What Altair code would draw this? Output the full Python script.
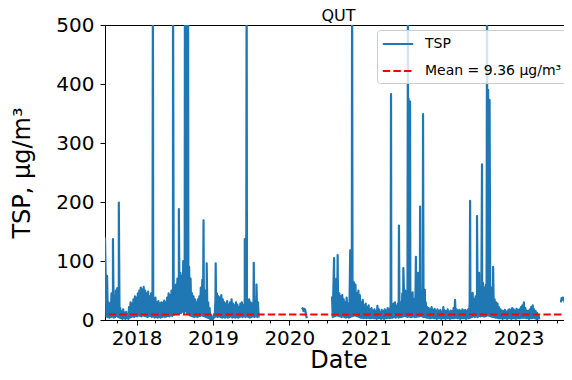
import altair as alt
import pandas as pd

# ---------------- data ----------------
MEAN = 9.36
MEAN_LABEL = "Mean = 9.36 μg/m³"
SERIES = "TSP"

# Segment A: weekly upper values (hi) and mid-week low values (lo), starting 2017-08-06
A_start = "2017-08-06"
A_hi = [80, 75, 30, 28, 45, 47, 40, 50, 54, 48,
        20, 15, 18, 12, 14, 10, 22, 30, 28, 35,
        40, 38, 45, 50, 55, 52, 56, 50, 45, 48,
        40, 45, 42, 35, 38, 30, 32, 28, 30, 29,
        33, 30, 38, 45, 42, 50, 40, 45, 60, 70,
        65, 80, 75, 100, 85, 120, 100, 90, 70, 45,
        40, 35, 30, 35, 40, 55, 68, 60, 50, 40,
        30, 20, 8, 5, 10, 35, 45, 40, 38, 42,
        35, 30, 28, 32, 26, 30, 35, 28, 25, 30,
        26, 22, 28, 30, 25, 35, 40, 32, 35, 30,
        28, 35, 32, 40, 30]
A_lo = [6, 5, 4, 5, 6, 4, 5, 7, 5, 4,
        3, 2, 3, 2, 3, 2, 4, 5, 6, 5,
        7, 6, 8, 7, 6, 8, 7, 6, 5, 6,
        7, 5, 6, 4, 5, 4, 5, 4, 5, 6,
        5, 6, 7, 6, 8, 7, 9, 10, 12, 10,
        11, 12, 14, 12, 15, 12, 10, 8, 7, 6,
        5, 6, 5, 6, 7, 8, 7, 6, 5, 4,
        3, 1, 1, 2, 5, 6, 5, 6, 5, 4,
        5, 4, 5, 4, 5, 6, 4, 5, 4, 5,
        4, 5, 6, 5, 6, 5, 6, 5, 4, 5,
        6, 5, 6, 5, 4]
A_spike_dates = ["2017-08-03", "2017-09-10", "2017-10-08", "2018-03-20", "2018-06-24",
                 "2018-07-22", "2018-08-20", "2018-08-28", "2018-09-04", "2018-11-17",
                 "2018-12-02", "2019-01-14", "2019-06-02", "2019-06-11", "2019-07-15",
                 "2019-07-28"]
A_spike_vals = [140, 137, 199, 600, 600,
                188, 600, 600, 600, 169,
                96, 96, 137, 600, 97,
                60]

# Segment B: short run in March 2020
B_dates = ["2020-03-01", "2020-03-05", "2020-03-09", "2020-03-13", "2020-03-17",
           "2020-03-21", "2020-03-25"]
B_vals = [18, 20, 15, 19, 17, 8, 3]

# Segment C: weekly values starting 2020-07-23
C_start = "2020-07-23"
C_hi = [40, 60, 55, 70, 60, 45, 40, 42, 35, 30,
        38, 28, 35, 40, 50, 64, 60, 45, 50, 42,
        30, 34, 25, 28, 22, 25, 18, 20, 16, 18,
        15, 24, 18, 14, 17, 15, 18, 16, 20, 18,
        25, 22, 28, 30, 24, 28, 35, 30, 45, 60,
        50, 40, 55, 45, 40, 47, 35, 45, 40, 50,
        60, 45, 55, 40, 30, 22, 20, 18, 22, 17,
        19, 16, 18, 15, 17, 14, 22, 16, 15, 18,
        14, 16, 15, 20, 34, 18, 16, 17, 15, 18,
        16, 17, 15, 18, 30, 40, 46, 35, 40, 45,
        70, 50, 60, 63, 55, 60, 70, 80, 65, 55,
        50, 35, 30, 28, 22, 18, 16, 15, 17, 14,
        16, 18, 17, 20, 18, 16, 19, 17, 18, 22,
        25, 30, 20, 16, 15, 18, 22, 25, 18, 15,
        12, 8]
C_lo = [5, 6, 7, 8, 7, 6, 5, 6, 5, 4,
        5, 4, 5, 6, 7, 8, 7, 6, 5, 4,
        4, 3, 4, 3, 4, 3, 3, 4, 3, 3,
        2, 3, 3, 2, 3, 2, 3, 3, 4, 3,
        4, 4, 5, 4, 5, 4, 5, 5, 6, 7,
        6, 5, 6, 5, 5, 6, 5, 5, 6, 6,
        7, 6, 5, 5, 4, 4, 3, 3, 4, 3,
        3, 2, 3, 3, 2, 3, 3, 2, 3, 3,
        2, 3, 3, 3, 4, 3, 3, 2, 3, 3,
        3, 2, 3, 3, 4, 5, 6, 5, 6, 5,
        7, 6, 7, 6, 6, 7, 8, 7, 6, 5,
        5, 4, 4, 3, 3, 3, 2, 3, 3, 2,
        3, 3, 2, 3, 3, 2, 3, 3, 3, 4,
        4, 4, 3, 3, 2, 3, 3, 4, 3, 2,
        2, 1]
C_spike_dates = ["2020-08-02", "2020-08-19", "2020-10-18", "2020-10-27", "2021-05-01",
                 "2021-06-08", "2021-06-29", "2021-07-21", "2021-07-24", "2021-07-31",
                 "2021-08-28", "2021-09-07", "2021-09-17", "2021-10-01", "2021-10-10",
                 "2022-05-14", "2022-06-16", "2022-06-26", "2022-07-10", "2022-08-03",
                 "2022-08-08", "2022-08-15", "2022-09-01"]
C_spike_vals = [105, 110, 118, 600, 383,
                160, 88, 600, 375, 370,
                107, 80, 192, 349, 51,
                202, 176, 80, 264, 600,
                390, 373, 90]

# Segment D: from late July 2023 to the right edge
D_dates = ["2023-07-22", "2023-07-25", "2023-07-28", "2023-07-31", "2023-08-03",
           "2023-08-06", "2023-08-09", "2023-08-12", "2023-08-15", "2023-08-18",
           "2023-08-21", "2023-08-24", "2023-08-27", "2023-08-30", "2023-09-02",
           "2023-09-05", "2023-09-08", "2023-09-10", "2023-09-13"]
D_vals = [30, 37, 35, 38, 34,
          36, 30, 37, 35, 36,
          38, 35, 33, 37, 36,
          20, 30, 25, 132]

X_START = "2017-08-03"
X_END = "2023-09-13"
Y_TICKS = [0, 100, 200, 300, 400, 500]

# ---------------- build table ----------------
frames = []

def weekly(start, hi, lo, seg):
    d = pd.date_range(start, periods=len(hi), freq="7D")
    f1 = pd.DataFrame({"date": d, "value": hi})
    f2 = pd.DataFrame({"date": d + pd.Timedelta("3D12h"), "value": lo})
    f = pd.concat([f1, f2])
    f["seg"] = seg
    return f

def points(dates, vals, seg):
    return pd.DataFrame({"date": pd.to_datetime(dates), "value": vals, "seg": seg})

frames.append(weekly(A_start, A_hi, A_lo, "A"))
frames.append(points(A_spike_dates, A_spike_vals, "A"))
frames.append(points(B_dates, B_vals, "B"))
frames.append(weekly(C_start, C_hi, C_lo, "C"))
frames.append(points(C_spike_dates, C_spike_vals, "C"))
frames.append(points(D_dates, D_vals, "D"))
df = pd.concat(frames).sort_values(["seg", "date"]).reset_index(drop=True)
df["series"] = SERIES
df["date"] = df["date"].dt.strftime("%Y-%m-%dT%H:%M:%S")

mean_df = pd.DataFrame({"series": [MEAN_LABEL], "value": [MEAN]})

tick_vals = []
for yr in range(2017, 2024):
    for mo in (1, 4, 7, 10):
        if (yr, mo) > (2017, 8) and (yr, mo) < (2023, 9):
            tick_vals.append(alt.DateTime(year=yr, month=mo, date=1))

FONT = "DejaVu Sans"
domain_names = [SERIES, MEAN_LABEL]
color_scale = alt.Scale(domain=domain_names, range=["#1f77b4", "#ff0000"])
dash_scale = alt.Scale(domain=domain_names, range=[[1, 0], [7.4, 3.2]])
legend = alt.Legend(title=None, orient="none", legendX=272, legendY=5,
                    symbolType="M-1.9,0H1.9", symbolSize=256, symbolStrokeWidth=2,
                    symbolOffset=7,
                    labelFont=FONT, labelFontSize=14, labelColor="black",
                    labelOffset=18, rowPadding=11, padding=5,
                    fillColor="rgba(255,255,255,0.8)", strokeColor="#cccccc",
                    cornerRadius=3)

x_enc = alt.X("date:T",
              scale=alt.Scale(domain=[X_START, X_END]),
              axis=alt.Axis(values=tick_vals,
                            labelExpr="month(datum.value) == 0 ? timeFormat(datum.value, '%Y') : ''",
                            tickSize={"condition": {"test": "month(datum.value) == 0", "value": 5}, "value": 3},
                            labelOverlap=False, labelFlush=False,
                            title="Date", labelPadding=3, titlePadding=0))
y_enc = alt.Y("value:Q", scale=alt.Scale(domain=[0, 500], nice=False),
              axis=alt.Axis(values=Y_TICKS, title="TSP, μg/m³", tickSize=5,
                            labelPadding=6, titlePadding=21))

line = alt.Chart(pd.DataFrame(df)).mark_line(
    strokeWidth=2.2, clip=True, strokeJoin="round"
).encode(
    x=x_enc, y=y_enc,
    detail="seg:N",
    color=alt.Color("series:N", scale=color_scale, legend=legend),
    strokeDash=alt.StrokeDash("series:N", scale=dash_scale, legend=legend),
    order="date:T",
)

rule = alt.Chart(mean_df).mark_rule(strokeWidth=2).encode(
    y="value:Q",
    color=alt.Color("series:N", scale=color_scale, legend=legend),
    strokeDash=alt.StrokeDash("series:N", scale=dash_scale, legend=legend),
)

chart = alt.layer(line, rule).properties(
    width=467, height=295,
    title=alt.Title("QUT", fontSize=16, fontWeight="normal", font=FONT, color="black",
                    offset=-9, frame="group"),
    autosize=alt.AutoSizeParams(type="none"),
    padding={"left": 97, "top": 17, "right": -8, "bottom": 48},
).configure_axis(
    grid=False, domainColor="black", tickColor="black", labelColor="black",
    titleColor="black", labelFont=FONT, titleFont=FONT, labelFontSize=20,
    titleFontSize=24, titleFontWeight="normal", domainWidth=1, tickWidth=1,
).configure_view(stroke="black", strokeWidth=1)

chart.save("out.html", embed_options={"renderer": "svg", "actions": False})
